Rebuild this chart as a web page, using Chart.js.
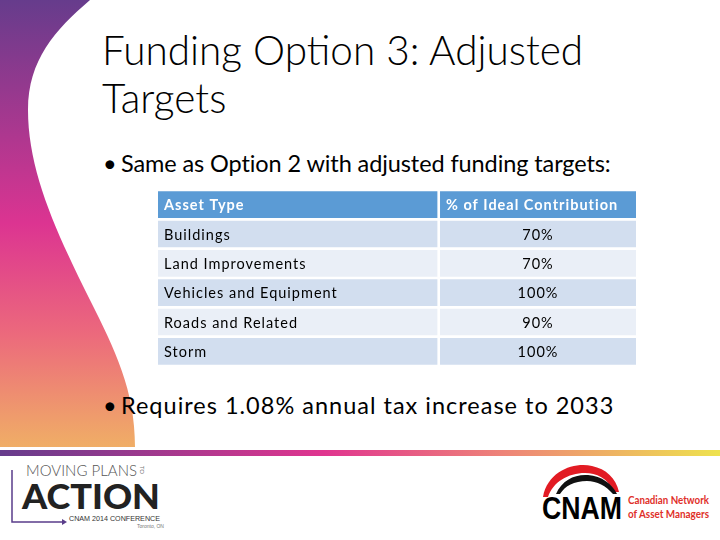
<!DOCTYPE html>
<html>
<head>
<meta charset="utf-8">
<script src="https://cdn.jsdelivr.net/npm/chart.js@4.4.1/dist/chart.umd.min.js"></script>
<style>
  html, body { margin: 0; padding: 0; background: #fff; }
  #slide { position: relative; width: 720px; height: 540px; overflow: hidden; background: #fff; font-family: Lato, "Open Sans", sans-serif; }
  #deco { position: absolute; left: 0; top: 0; }
  .title { position: absolute; left: 102px; top: 26px; font-size: 40.5px; font-weight: 300; line-height: 48px; color: #000; white-space: nowrap; }
  .bullet { position: absolute; left: 103px; font-size: 23.5px; color: #000; white-space: nowrap; }
  .bullet span { display: inline-block; width: 18px; letter-spacing: 0; }
  #tableWrap { position: absolute; left: 158px; top: 190px; width: 478px; height: 176px; }
  #tableChart { display: block; }
</style>
</head>
<body>
<div id="slide">
  <svg id="deco" width="720" height="540">
    <defs>
      <linearGradient id="swoosh" x1="0" y1="0" x2="0" y2="1">
        <stop offset="0" stop-color="#663c8c"/>
        <stop offset="0.5" stop-color="#dc3491"/>
        <stop offset="0.75" stop-color="#ec6a7c"/>
        <stop offset="1" stop-color="#f0ae66"/>
      </linearGradient>
      <linearGradient id="band" x1="0" y1="0" x2="1" y2="0">
        <stop offset="0" stop-color="#663c8c"/>
        <stop offset="0.45" stop-color="#e0358f"/>
        <stop offset="0.7" stop-color="#ee8478"/>
        <stop offset="1" stop-color="#eee24e"/>
      </linearGradient>
    </defs>
    <!-- bande decorative a gauche -->
    <path d="M0,0 L90,0 C55,30 28,60 28,110 C28,170 55,230 90,300 C115,350 135,390 135,447 L0,447 Z" fill="url(#swoosh)"/>
    <rect x="0" y="450" width="720" height="6" fill="url(#band)"/>

    <!-- logo Moving Plans to Action -->
    <path d="M12,470 L12,522 L64,522" stroke="#5a3d8a" stroke-width="1.5" fill="none"/>
    <path d="M62,519 L67,522 L62,525 Z" fill="#5a3d8a"/>
    <text x="26" y="476" font-family="Lato" font-weight="300" font-size="15" fill="#555" textLength="111">MOVING PLANS</text>
    <text x="0" y="0" font-family="Lato" font-size="6" fill="#777" transform="translate(140,466) rotate(90)">TO</text>
    <text x="22" y="509" font-family="Lato" font-weight="900" font-size="35" fill="#222" textLength="138" lengthAdjust="spacingAndGlyphs">ACTION</text>
    <text x="69" y="521" font-family="Liberation Sans Narrow, Liberation Sans" font-size="7.5" fill="#333" textLength="91" lengthAdjust="spacingAndGlyphs">CNAM 2014 CONFERENCE</text>
    <text x="137" y="528" font-family="Liberation Sans" font-size="5" fill="#777">Toronto, ON</text>

    <!-- logo CNAM -->
    <path d="M543,497 C548,470 575,462 592,466 C606,469 616,478 619,492 L614,492 C608,478 596,473 585,473 C568,473 553,482 548,497 Z" fill="#e21b23"/>
    <path d="M556,494 C562,480 575,474 588,475 C602,476 612,484 617,494 L613,494 C606,486 597,481 587,481 C574,481 565,486 560,494 Z" fill="#111"/>
    <text x="542" y="519" font-family="Liberation Sans Narrow, Liberation Sans" font-weight="bold" font-size="32" fill="#000" textLength="80" lengthAdjust="spacingAndGlyphs">CNAM</text>
    <text x="628" y="504" font-family="Lato" font-weight="700" font-size="10.5" fill="#e0302a" textLength="81" lengthAdjust="spacingAndGlyphs">Canadian Network</text>
    <text x="628" y="518" font-family="Lato" font-weight="700" font-size="10.5" fill="#e0302a" textLength="81" lengthAdjust="spacingAndGlyphs">of Asset Managers</text>
  </svg>

  <div class="title">Funding Option 3: Adjusted<br>Targets</div>
  <div class="bullet" style="top:149px; letter-spacing:-0.1px"><span>•</span>Same as Option 2 with adjusted funding targets:</div>
  <div class="bullet" style="top:391px; letter-spacing:1px"><span>•</span>Requires 1.08% annual tax increase to 2033</div>

  <div id="tableWrap"><canvas id="tableChart" width="478" height="176"></canvas></div>
</div>

<script>
// --- Donnees du tableau ---
const headers = ['Asset Type', '% of Ideal Contribution'];
const assetTypes = ['Buildings', 'Land Improvements', 'Vehicles and Equipment', 'Roads and Related', 'Storm'];
const idealContribution = [70, 70, 100, 90, 100];

// bords des colonnes sur l'axe x (0..1)
const colA = [0, 0.5845];
const colB = [0.59, 1];

const rowLabels = [headers[0]].concat(assetTypes);
const headerBlue = '#5b9bd5';
const rowDark = '#d2deef';
const rowLight = '#eaeff7';

const rowColors = rowLabels.map((l, i) => i === 0 ? headerBlue : (i % 2 === 1 ? rowDark : rowLight));

// Texte des cellules (dessine avec les echelles du graphique)
const cellText = {
    id: 'cellText',
    afterDatasetsDraw(chart) {
        const ctx = chart.ctx;
        const x = chart.scales.x;
        const y = chart.scales.y;
        ctx.save();
        ctx.textBaseline = 'middle';
        ctx.letterSpacing = '1px';
        rowLabels.forEach((label, i) => {
            const cy = y.getPixelForValue(i) + 1;
            if (i === 0) {
                ctx.fillStyle = '#fff';
                ctx.font = 'bold 14.5px Lato';
                ctx.textAlign = 'left';
                ctx.fillText(headers[0], x.getPixelForValue(colA[0]) + 6, cy);
                ctx.fillText(headers[1], x.getPixelForValue(colB[0]) + 6, cy);
            } else {
                ctx.fillStyle = '#000';
                ctx.font = '14.5px Lato';
                ctx.textAlign = 'left';
                ctx.fillText(label, x.getPixelForValue(colA[0]) + 6, cy);
                ctx.textAlign = 'center';
                const mid = (x.getPixelForValue(colB[0]) + x.getPixelForValue(colB[1])) / 2;
                ctx.fillText(idealContribution[i - 1] + '%', mid, cy);
            }
        });
        ctx.restore();
    }
};

new Chart(document.getElementById('tableChart'), {
    type: 'bar',
    data: {
        labels: rowLabels,
        datasets: [
            { data: rowLabels.map(() => colA.slice()), backgroundColor: rowColors, grouped: false },
            { data: rowLabels.map(() => colB.slice()), backgroundColor: rowColors, grouped: false }
        ]
    },
    options: {
        indexAxis: 'y',
        responsive: false,
        maintainAspectRatio: false,
        animation: false,
        datasets: { bar: { barPercentage: 0.91, categoryPercentage: 1, borderWidth: 0, borderSkipped: false } },
        layout: { padding: 0 },
        scales: {
            x: { type: 'linear', min: 0, max: 1, display: false },
            y: { display: false }
        },
        plugins: { legend: { display: false }, tooltip: { enabled: false } }
    },
    plugins: [cellText]
});
</script>
</body>
</html>
